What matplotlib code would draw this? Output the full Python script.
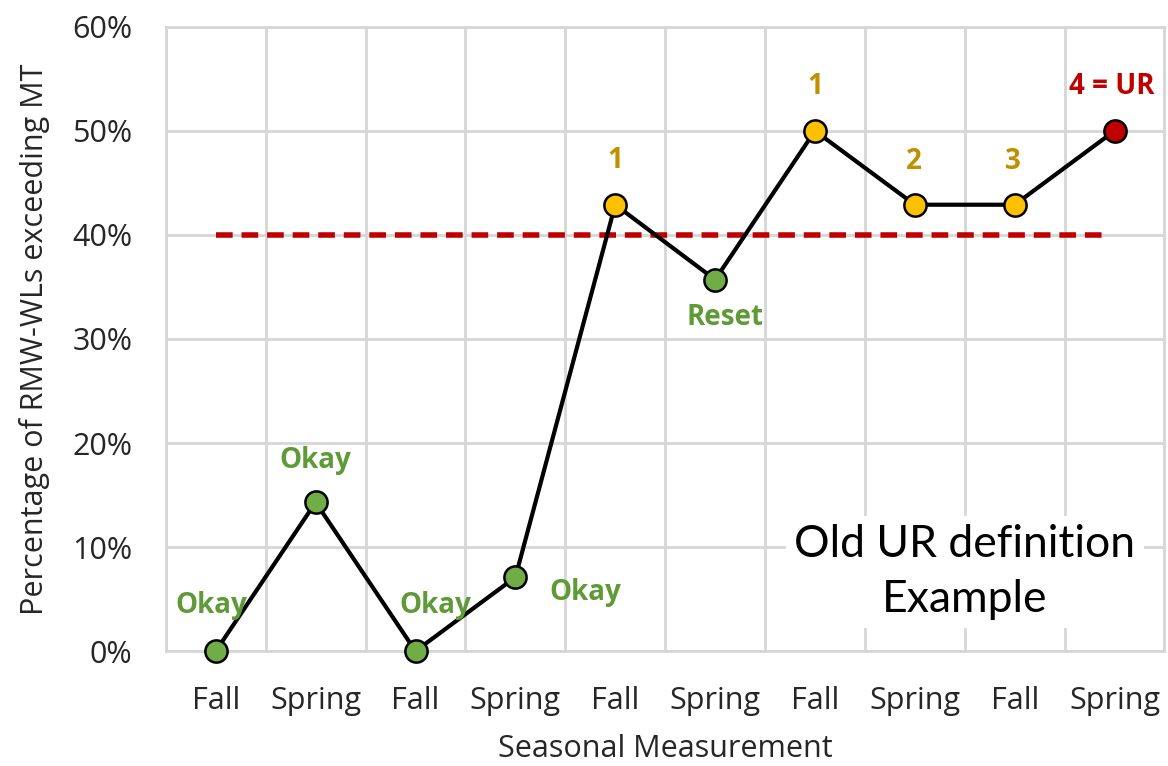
import matplotlib.pyplot as plt
from matplotlib.ticker import PercentFormatter

seasons = ['Fall', 'Spring', 'Fall', 'Spring', 'Fall', 'Spring', 'Fall', 'Spring', 'Fall', 'Spring']
pct_exceeding = [0, 14.3, 0, 7.1, 42.9, 35.7, 50, 42.9, 42.9, 50]
threshold = [40] * len(seasons)
labels = ['Okay', 'Okay', 'Okay', 'Okay', '1', 'Reset', '1', '2', '3', '4 = UR']
status = ['ok', 'ok', 'ok', 'ok', 'warn', 'ok', 'warn', 'warn', 'warn', 'ur']

marker_col = {'ok': '#70AD47', 'warn': '#FFC000', 'ur': '#C00000'}
text_col = {'ok': '#5E9A36', 'warn': '#BF9000', 'ur': '#C00000'}
# label offsets in points (dx, dy)
offsets = [(-3, 33), (0, 30), (14, 33), (50, -11), (0, 32), (7, -27), (0, 32), (-1, 31), (-1, 31), (-2, 32)]

plt.rcParams['font.family'] = ['Open Sans', 'DejaVu Sans']

fig = plt.figure(figsize=(11.68, 7.66), dpi=100)
ax = fig.add_axes([0.142, 0.150, 0.855, 0.815])

x = list(range(len(seasons)))
ax.plot([0, 8.9], threshold[:2], color='#C00000', lw=4, ls=(0, (3, 1.6)), zorder=2)
ax.plot(x, pct_exceeding, color='black', lw=3, zorder=3)
for i in x:
    ax.plot(i, pct_exceeding[i], 'o', ms=16, mfc=marker_col[status[i]], mec='black', mew=1.8,
            zorder=4, clip_on=False)
    ax.annotate(labels[i], (i, pct_exceeding[i]), xytext=offsets[i], textcoords='offset points',
                ha='center', va='center', fontsize=20, fontweight='bold',
                color=text_col[status[i]], zorder=5)

ax.set_xlim(-0.5, 9.5)
ax.set_ylim(0, 60)
ax.set_yticks(range(0, 61, 10))
ax.yaxis.set_major_formatter(PercentFormatter(decimals=0))
ax.set_xticks(x)
ax.set_xticklabels(seasons)
ax.set_xticks([i + 0.5 for i in range(-1, 10)], minor=True)
ax.tick_params(axis='both', which='both', length=0, labelsize=22, colors='#262626')
ax.tick_params(axis='x', pad=25)
ax.tick_params(axis='y', pad=24)
ax.grid(True, which='minor', axis='x', color='#D6D6D6', lw=2)
ax.grid(True, which='major', axis='y', color='#D6D6D6', lw=2)
ax.set_axisbelow(True)
for s in ax.spines.values():
    s.set_color('#D6D6D6')
    s.set_linewidth(2)

ax.set_xlabel('Seasonal Measurement', fontsize=22, color='#262626', labelpad=13)
ax.set_ylabel('Percentage of RMW-WLs exceeding MT', fontsize=22, color='#262626', labelpad=16)

ax.text(7.5, 7.6, 'Old UR definition\nExample', ha='center', va='center', fontsize=32,
        family=['Lato', 'DejaVu Sans'], linespacing=1.4, zorder=6,
        bbox=dict(facecolor='white', edgecolor='none', pad=6))

fig.savefig('out.png', dpi=100)
